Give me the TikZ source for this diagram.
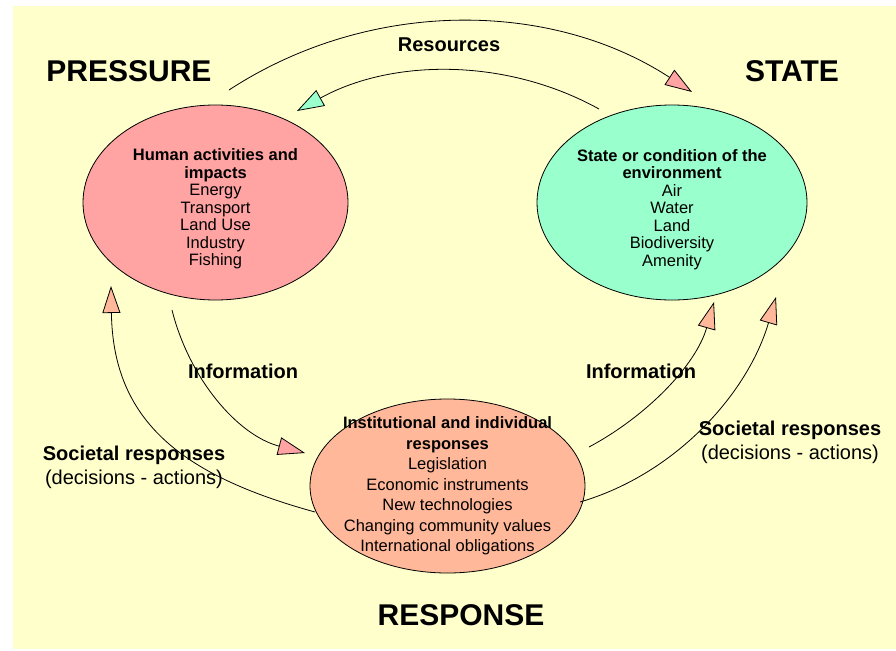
\documentclass[tikz,border=0pt]{standalone}
\usepackage{fontspec}
\setmainfont{Liberation Sans}
\usetikzlibrary{shapes.geometric,arrows.meta}

\definecolor{bgyellow}{HTML}{FFFFCC}
\definecolor{pressurepink}{HTML}{FFA3A3}
\definecolor{stategreen}{HTML}{99FFCC}
\definecolor{responsesalmon}{HTML}{FFB899}

\tikzset{
  blob/.style={ellipse, draw=black, line width=0.8pt, inner sep=-20pt, align=center,
    font=\fontsize{16.5}{17.5}\selectfont},
  cornerlabel/.style={font=\bfseries\fontsize{30}{34}\selectfont},
  flowlabel/.style={align=center, font=\fontsize{20}{24}\selectfont},
  flow/.style={line width=0.8pt, -{Triangle[length=27pt,width=18pt,fill=#1]}},
}

\begin{document}
\begin{tikzpicture}[x=1pt,y=-1pt]
            \useasboundingbox (0,0) rectangle (896,650);
            \fill[bgyellow] (13,6) rectangle (896,649);

            \node[blob, fill=pressurepink, minimum width=265pt, minimum height=195pt] (P) at (215.5,202.5)
                {\rule{0pt}{24.5pt}\textbf{Human activities and}\\\textbf{impacts}\\Energy\\Transport\\Land Use\\Industry\\Fishing};
            \node[blob, fill=stategreen, minimum width=270pt, minimum height=195pt] (S) at (672,202.5)
                {\rule{0pt}{25.5pt}\textbf{State or condition of the}\\\textbf{environment}\\Air\\Water\\Land\\Biodiversity\\Amenity};
            \node[blob, fill=responsesalmon, font=\fontsize{16.5}{20.5}\selectfont,
                minimum width=275pt, minimum height=174pt] (R) at (447.5,486)
                {\textbf{Institutional and individual}\\\textbf{responses}\\Legislation\\Economic instruments\\New technologies\\Changing community values\\International obligations};

            \node[cornerlabel] (Pt) at (129,71) {PRESSURE};
            \node[cornerlabel] (St) at (792,71) {STATE};
            \node[cornerlabel] (Rt) at (461,615) {RESPONSE};

            \node[flowlabel, font=\bfseries\fontsize{20}{24}\selectfont] (res) at (449,45) {Resources};
            \node[flowlabel, font=\bfseries\fontsize{20}{24}\selectfont] (infoL) at (243,371) {Information};
            \node[flowlabel, font=\bfseries\fontsize{20}{24}\selectfont] (infoR) at (641,371) {Information};
            \node[flowlabel] (socL) at (134,467) {\textbf{Societal responses}\\(decisions - actions)};
            \node[flowlabel] (socR) at (790,442) {\textbf{Societal responses}\\(decisions - actions)};

            \coordinate (PS1) at (229,90);   \coordinate (PS2) at (692,92);
            \coordinate (SP1) at (599,109);  \coordinate (SP2) at (297,111);
            \coordinate (PR1) at (172,310);  \coordinate (PR2) at (305,453);
            \coordinate (RP1) at (315,512);  \coordinate (RP2) at (111,286);
            \coordinate (RS1) at (589,447);  \coordinate (RS2) at (714,302);
            \coordinate (RT1) at (580,502);  \coordinate (RT2) at (776,297);

            \draw[flow=pressurepink] (PS1) .. controls (370,-2) and (551,0) .. (PS2);
            \draw[flow=stategreen] (SP1) .. controls (505,57) and (391,59) .. (SP2);
            \draw[flow=pressurepink] (PR1) .. controls (189,378) and (237,435) .. (PR2);
            \draw[flow=responsesalmon] (RP1) .. controls (180,475) and (113,420) .. (RP2);
            \draw[flow=responsesalmon] (RS1) .. controls (647,416) and (696,365) .. (RS2);
            \draw[flow=responsesalmon] (RT1) .. controls (676,474) and (748,393) .. (RT2);

\end{tikzpicture}
\end{document}
